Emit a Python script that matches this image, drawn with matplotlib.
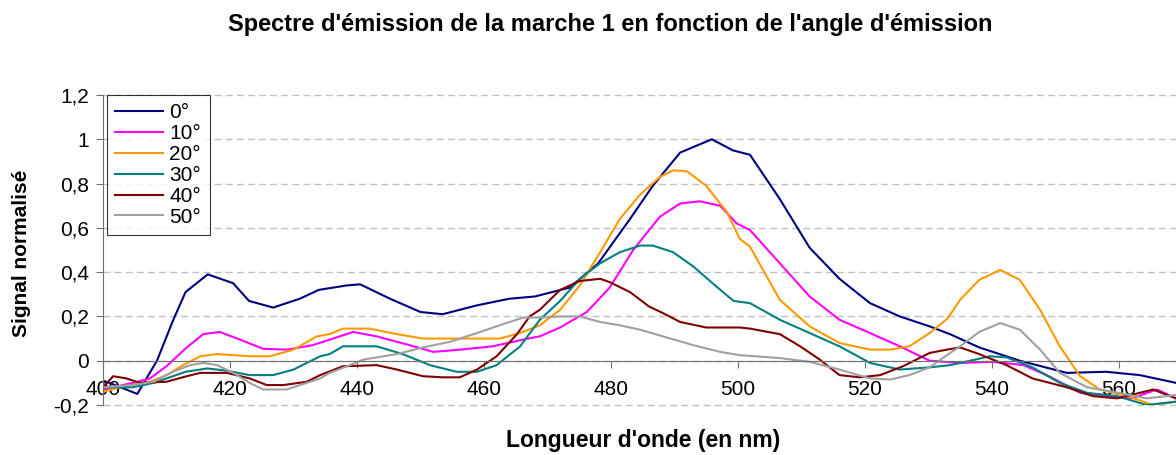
import matplotlib
matplotlib.use("Agg")
import matplotlib.pyplot as plt
from matplotlib.ticker import FuncFormatter, MultipleLocator

plt.rcParams["font.family"] = ["Liberation Sans", "DejaVu Sans"]

# emission spectra of step 1, one series per emission angle
wl_0 = [400, 401, 405.4, 408.5, 411, 413, 416.5, 420.5, 423, 426.8, 431, 434, 438.4, 440.5,
        445.2, 450, 453.5, 458.9, 464, 468, 473.5, 478, 483, 486.6, 490.9, 495.9, 499.2,
        501.9, 506.6, 511.3, 516, 520.8, 525.5, 530.2, 533.4, 538, 544.4, 551.8, 558, 563.3, 569]
sig_0 = [-0.09, -0.10, -0.15, 0.0, 0.18, 0.31, 0.39, 0.35, 0.27, 0.24, 0.28, 0.32, 0.34, 0.345,
         0.28, 0.22, 0.21, 0.25, 0.28, 0.29, 0.33, 0.44, 0.64, 0.79, 0.94, 1.0, 0.95,
         0.93, 0.73, 0.51, 0.37, 0.26, 0.20, 0.155, 0.12, 0.06, 0.0, -0.055, -0.05, -0.065, -0.10]

wl_10 = [400, 404.7, 407.4, 410, 413.2, 415.8, 418.4, 421.6, 425.2, 429, 433, 435.7, 439.4,
         443.1, 448.3, 452, 456.2, 461.4, 466.1, 468.8, 472, 476.2, 479.8, 483.5, 487.7,
         490.9, 494, 497.2, 499.8, 501.9, 506.6, 511.3, 516, 520.8, 525.5, 530.2, 535,
         540.2, 545, 549, 553.9, 558, 562, 566, 569]
sig_10 = [-0.13, -0.10, -0.08, -0.025, 0.06, 0.12, 0.13, 0.095, 0.054, 0.05, 0.07, 0.095, 0.13,
          0.11, 0.07, 0.04, 0.05, 0.065, 0.095, 0.11, 0.15, 0.22, 0.33, 0.50, 0.65,
          0.71, 0.72, 0.70, 0.62, 0.59, 0.44, 0.29, 0.185, 0.125, 0.065, 0.0, -0.01,
          -0.005, -0.02, -0.07, -0.145, -0.16, -0.17, -0.13, -0.17]

wl_20 = [400, 402.7, 407.4, 410, 412.6, 415.3, 418, 423.2, 426.3, 430, 433.7, 435.7, 437.8,
         442, 446.3, 450.4, 456.2, 462.5, 465.7, 468.8, 472, 475.1, 478.3, 481.4, 484.6,
         487.7, 489.8, 492, 495, 498.3, 500.3, 501.9, 506.6, 511.3, 516, 520.8, 524, 527,
         530.2, 533, 535, 538, 541.3, 544.4, 547.6, 550.7, 553.9, 557, 561.3, 565.4, 569]
sig_20 = [-0.14, -0.12, -0.095, -0.065, -0.02, 0.02, 0.03, 0.02, 0.02, 0.05, 0.11, 0.12, 0.145,
          0.145, 0.12, 0.10, 0.10, 0.10, 0.125, 0.16, 0.23, 0.34, 0.49, 0.64, 0.75,
          0.83, 0.86, 0.855, 0.79, 0.67, 0.55, 0.515, 0.275, 0.155, 0.08, 0.05, 0.05, 0.065,
          0.125, 0.19, 0.275, 0.365, 0.41, 0.365, 0.23, 0.065, -0.07, -0.13, -0.16, -0.2, -0.185]

wl_30 = [400, 404.7, 408, 410, 413, 416.4, 419.5, 423.1, 426.8, 430, 434.2, 435.7, 437.8,
         443.1, 447.2, 451.5, 455.7, 458.9, 462, 465.7, 468.8, 472, 475.1, 478.3, 481.4,
         484.6, 486.6, 489.8, 493, 496, 499.3, 501.9, 506.6, 511.3, 516, 520.8, 525.5,
         530.2, 533.4, 535, 539.7, 542.3, 546.4, 550.7, 555, 559.7, 564.4, 569]
sig_30 = [-0.12, -0.12, -0.10, -0.08, -0.05, -0.035, -0.045, -0.065, -0.065, -0.04, 0.02, 0.03, 0.065,
          0.065, 0.03, -0.02, -0.05, -0.05, -0.02, 0.065, 0.185, 0.27, 0.37, 0.44, 0.49,
          0.52, 0.52, 0.49, 0.425, 0.35, 0.27, 0.26, 0.185, 0.125, 0.065, -0.01, -0.04,
          -0.03, -0.02, -0.01, 0.02, 0.015, -0.03, -0.10, -0.145, -0.16, -0.2, -0.185]

wl_40 = [400, 401.6, 403.7, 405.8, 410, 413.2, 415.3, 419.5, 423.1, 425.8, 428.4, 432.1, 434.2,
         437.8, 443.1, 446.3, 450.4, 453.5, 456.2, 458.9, 462, 465.2, 467.2, 468.8, 472,
         475.1, 478.3, 479.8, 483, 486, 488.2, 490.9, 495, 500.3, 501.9, 506.6, 509.8,
         512.9, 516, 519.2, 522.4, 526, 530.2, 532.9, 535, 538, 542.3, 546.4, 551.8, 555.9,
         559.7, 563.3, 565.4, 569]
sig_40 = [-0.12, -0.07, -0.08, -0.10, -0.095, -0.07, -0.055, -0.055, -0.08, -0.11, -0.11, -0.095, -0.065,
          -0.025, -0.02, -0.04, -0.07, -0.075, -0.075, -0.04, 0.02, 0.12, 0.2, 0.23, 0.32,
          0.36, 0.37, 0.355, 0.31, 0.245, 0.215, 0.175, 0.15, 0.15, 0.145, 0.12, 0.065,
          0.005, -0.065, -0.075, -0.065, -0.025, 0.035, 0.05, 0.06, 0.03, -0.02, -0.08, -0.12, -0.16,
          -0.17, -0.145, -0.13, -0.17]

wl_50 = [400, 404.7, 408, 411, 413.7, 415.8, 418, 420.5, 423.1, 425.2, 428.9, 432.1, 434.2,
         435.7, 438.9, 441, 446.3, 450.4, 454.6, 458.9, 463, 466.2, 468.8, 472, 475.1,
         478.3, 481.4, 484.6, 488.8, 493, 497.2, 500.3, 506.6, 511.3, 516, 520.8, 524, 527,
         530.2, 532.9, 535, 538, 541.3, 544.4, 547.6, 550.7, 555, 559, 564.4, 569]
sig_50 = [-0.12, -0.11, -0.095, -0.05, -0.02, -0.01, -0.02, -0.055, -0.10, -0.13, -0.13, -0.10, -0.08,
          -0.055, -0.02, 0.005, 0.03, 0.06, 0.085, 0.125, 0.165, 0.195, 0.195, 0.2, 0.2,
          0.175, 0.16, 0.14, 0.105, 0.07, 0.04, 0.025, 0.012, -0.005, -0.04, -0.08, -0.085, -0.065,
          -0.03, 0.025, 0.065, 0.13, 0.17, 0.14, 0.05, -0.055, -0.12, -0.14, -0.17, -0.155]

labels = ["0°", "10°", "20°", "30°", "40°", "50°"]
colors = ["#000080", "#FF00FF", "#FF9900", "#008080", "#800000", "#A0A0A0"]
series = [(wl_0, sig_0), (wl_10, sig_10), (wl_20, sig_20),
          (wl_30, sig_30), (wl_40, sig_40), (wl_50, sig_50)]


def fr_number(v, _pos):
    # French decimal comma, no trailing zeros
    if abs(v) < 1e-9:
        return "0"
    return f"{v:.1f}".rstrip("0").rstrip(".").replace(".", ",")


fig = plt.figure(figsize=(11.76, 4.55), dpi=100)
ax = fig.add_axes([103 / 1176, 50 / 455, 1 - 103 / 1176, 310 / 455])

for (x, y), lab, c in zip(series, labels, colors):
    ax.plot(x, y, color=c, lw=1.5, label=lab)

ax.set_xlim(400, 569)
ax.set_ylim(-0.2, 1.2)
ax.xaxis.set_major_locator(MultipleLocator(20))
ax.yaxis.set_major_locator(MultipleLocator(0.2))
ax.yaxis.set_major_formatter(FuncFormatter(fr_number))

# x axis drawn through y = 0, Excel style
for s in ("top", "right"):
    ax.spines[s].set_visible(False)
ax.spines["bottom"].set_position(("data", 0))
ax.spines["bottom"].set_color("#707070")
ax.spines["left"].set_color("#707070")
ax.tick_params(axis="both", colors="#707070", labelcolor="black", labelsize=15, length=5)
ax.tick_params(axis="x", pad=9)
ax.tick_params(axis="y", pad=5)

ax.yaxis.grid(True, linestyle=(0, (5, 3)), color="#c0c0c0", lw=1)
ax.set_axisbelow(True)
for gl in ax.get_ygridlines():
    gl.set_clip_on(False)

fig.text(22 / 1176, 1 - 253 / 455, "Signal normalisé", rotation=90, ha="center", va="center",
         fontsize=15, fontweight="bold")
fig.text(643 / 1176, 1 - 440 / 455, "Longueur d'onde (en nm)", ha="center", va="center",
         fontsize=16.5, fontweight="bold")
fig.text(610 / 1176, 1 - 25 / 455, "Spectre d'émission de la marche 1 en fonction de l'angle d'émission",
         ha="center", va="center", fontsize=17, fontweight="bold")

leg = ax.legend(loc="upper left", bbox_to_anchor=(4 / 1073, 1.0), fontsize=15, frameon=True,
                fancybox=False, edgecolor="black", borderpad=0.4, labelspacing=0.09,
                handlelength=2.3, handletextpad=0.3, borderaxespad=0)
leg.get_frame().set_linewidth(0.8)

fig.savefig("out.png", dpi=100)
